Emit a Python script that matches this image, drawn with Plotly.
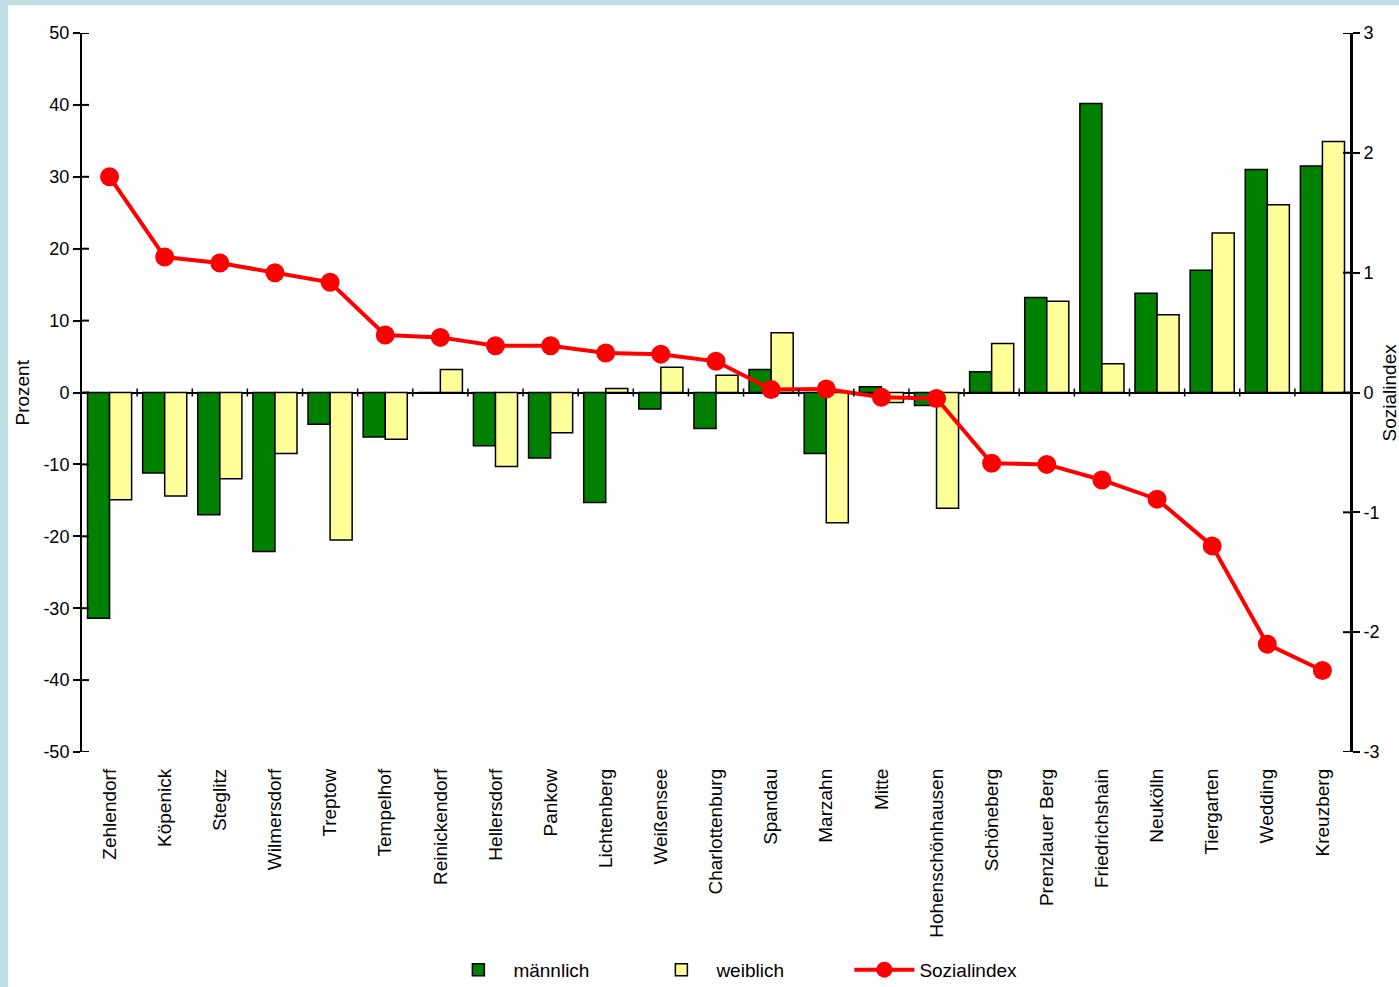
import plotly.graph_objects as go

districts = ["Zehlendorf", "Köpenick", "Steglitz", "Wilmersdorf", "Treptow", "Tempelhof",
             "Reinickendorf", "Hellersdorf", "Pankow", "Lichtenberg", "Weißensee",
             "Charlottenburg", "Spandau", "Marzahn", "Mitte", "Hohenschönhausen",
             "Schöneberg", "Prenzlauer Berg", "Friedrichshain", "Neukölln", "Tiergarten",
             "Wedding", "Kreuzberg"]

maennlich = [-31.4, -11.2, -17.0, -22.1, -4.4, -6.2, 0.0, -7.4, -9.1, -15.3, -2.3,
             -5.0, 3.2, -8.5, 0.8, -1.8, 2.9, 13.2, 40.2, 13.8, 17.0, 31.0, 31.5]

weiblich = [-14.9, -14.4, -12.0, -8.5, -20.5, -6.5, 3.2, -10.3, -5.6, 0.55, 3.5,
            2.4, 8.3, -18.1, -1.4, -16.1, 6.8, 12.7, 4.0, 10.8, 22.2, 26.1, 34.9]

sozialindex = [1.80, 1.13, 1.08, 1.00, 0.92, 0.48, 0.46, 0.39, 0.39, 0.33, 0.32,
               0.26, 0.025, 0.03, -0.04, -0.05, -0.59, -0.60, -0.73, -0.89, -1.28,
               -2.10, -2.32]

left_ticks = [-50, -40, -30, -20, -10, 0, 10, 20, 30, 40, 50]
left_labels = ["-50", "-40", "-30", "-20", "-10", "0", "10", "20", "30", "40", "50"]
right_ticks = [-3, -2, -1, 0, 1, 2, 3]
right_labels = ["-3", "-2", "-1", "0", "1", "2", "3"]

FONT = "Liberation Sans, Arial, sans-serif"

fig = go.Figure()
fig.add_trace(go.Bar(x=districts, y=maennlich, name="männlich",
                     marker=dict(color="#008000", line=dict(color="black", width=1.5))))
fig.add_trace(go.Bar(x=districts, y=weiblich, name="weiblich",
                     marker=dict(color="#FFFF99", line=dict(color="black", width=1.5))))
fig.add_trace(go.Scatter(x=districts, y=sozialindex, name="Sozialindex", yaxis="y2",
                         mode="lines+markers",
                         line=dict(color="#FF0000", width=4),
                         marker=dict(color="#FF0000", size=19)))

# category boundary ticks on the zero line
for i in range(len(districts) - 1):
    fig.add_shape(type="line", xref="x", yref="y", x0=i + 0.5, x1=i + 0.5,
                  ysizemode="pixel", yanchor=0, y0=-4, y1=4,
                  line=dict(color="black", width=1.5))

# inner halves of the crossing ticks on both value axes
for v in left_ticks:
    fig.add_shape(type="line", xref="paper", yref="y", xsizemode="pixel", xanchor=0,
                  x0=0, x1=7, y0=v, y1=v, line=dict(color="black", width=2))
for v in right_ticks:
    fig.add_shape(type="line", xref="paper", yref="y2", xsizemode="pixel", xanchor=1,
                  x0=-7, x1=0, y0=v, y1=v, line=dict(color="black", width=2))

# white chart area over the light blue page
fig.add_shape(type="rect", xref="paper", yref="paper",
              x0=-0.0584, x1=1.1, y0=-0.5, y1=1.039,
              fillcolor="white", line=dict(width=0), layer="below")

fig.update_layout(
    width=1399, height=987,
    margin=dict(l=82, r=49, t=33, b=235, autoexpand=False),
    paper_bgcolor="#BFDFE5",
    plot_bgcolor="white",
    barmode="group", bargap=0.2, bargroupgap=0.0,
    font=dict(family=FONT, size=18, color="black"),
    showlegend=True,
    legend=dict(orientation="h", x=0.285, xanchor="left", y=-0.303, yanchor="middle",
                font=dict(family=FONT, size=19, color="black"),
                entrywidth=128, entrywidthmode="pixels", itemwidth=60,
                bgcolor="rgba(0,0,0,0)"),
    xaxis=dict(type="category", range=[-0.5, len(districts) - 0.5], automargin=False,
               showline=False, showgrid=False, zeroline=False,
               tickangle=-90, ticks="", ticklabelstandoff=12,
               tickfont=dict(family=FONT, size=19, color="black")),
    yaxis=dict(range=[-50, 50], tickvals=left_ticks, ticktext=left_labels,
               showgrid=False, automargin=False,
               zeroline=True, zerolinecolor="black", zerolinewidth=1.5,
               showline=True, linecolor="black", linewidth=2,
               ticks="outside", ticklen=7, tickwidth=2, tickcolor="black",
               tickfont=dict(family=FONT, size=18, color="black")),
    yaxis2=dict(range=[-3, 3], tickvals=right_ticks, ticktext=right_labels,
                overlaying="y", side="right", automargin=False,
                showgrid=False, zeroline=False,
                showline=True, linecolor="black", linewidth=3,
                ticks="outside", ticklen=7, tickwidth=2, tickcolor="black",
                tickfont=dict(family=FONT, size=18, color="black")),
    annotations=[
        dict(text="Prozent", xref="paper", yref="paper", x=-0.0473, y=0.5,
             textangle=-90, showarrow=False, xanchor="center", yanchor="middle",
             font=dict(family=FONT, size=19, color="black")),
        dict(text="Sozialindex", xref="paper", yref="paper", x=1.0315, y=0.5,
             textangle=-90, showarrow=False, xanchor="center", yanchor="middle",
             font=dict(family=FONT, size=19, color="black")),
    ],
)

fig.write_html("out.html")
